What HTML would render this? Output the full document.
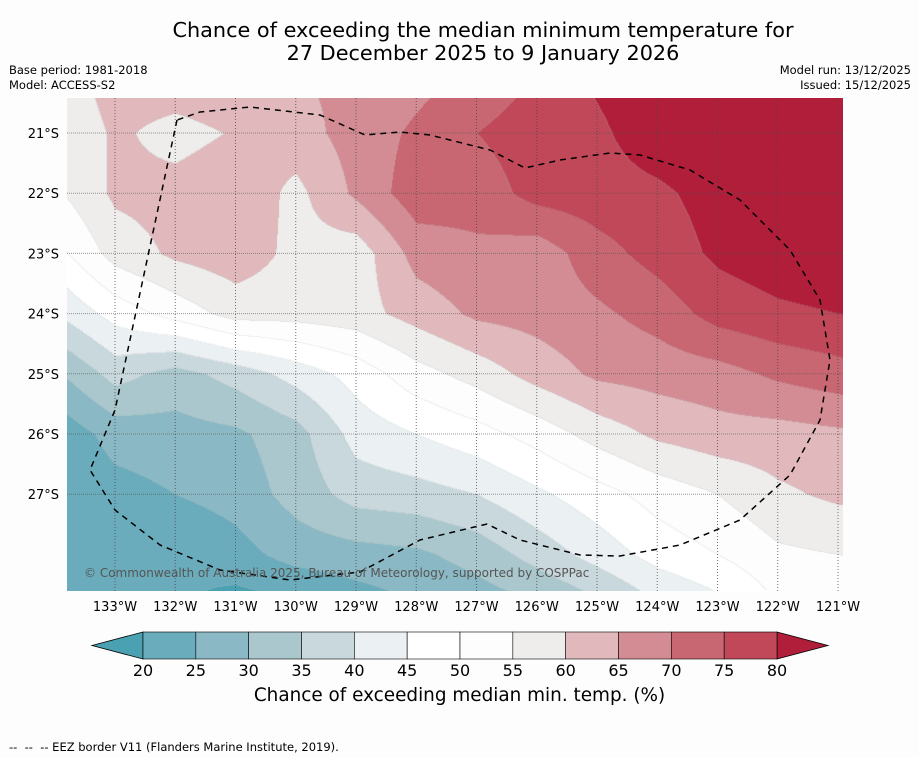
<!DOCTYPE html>
<html><head><meta charset="utf-8">
<style>
html,body{margin:0;padding:0;background:#fdfdfd;}
#wrap{position:relative;width:919px;height:758px;overflow:hidden;font-family:"DejaVu Sans","Liberation Sans",sans-serif;color:#000;}
.t{position:absolute;white-space:nowrap;}
</style></head>
<body>
<div id="wrap">
<div class="t" style="left:0;width:966px;top:19px;text-align:center;font-size:20.8px;line-height:23px;">Chance of exceeding the median minimum temperature for<br>27 December 2025 to 9 January 2026</div>
<div class="t" style="left:9px;top:63px;font-size:11.5px;line-height:15px;">Base period: 1981-2018<br>Model: ACCESS-S2</div>
<div class="t" style="right:8px;top:63px;font-size:11.5px;line-height:15px;text-align:right;">Model run: 13/12/2025<br>Issued: 15/12/2025</div>
<canvas id="map" width="776" height="493" style="position:absolute;left:67px;top:98px;"></canvas>
<svg id="ov" width="919" height="758" style="position:absolute;left:0;top:0;"></svg>
<div class="t" style="left:84px;top:566px;font-size:12px;color:#555;">© Commonwealth of Australia 2025, Bureau of Meteorology, supported by COSPPac</div>
<div class="t" style="left:0;width:919px;top:685px;text-align:center;font-size:18.4px;">Chance of exceeding median min. temp. (%)</div>
<div class="t" style="left:9px;top:740px;font-size:11.5px;">-- &nbsp;-- &nbsp;-- EEZ border V11 (Flanders Marine Institute, 2019).</div>
</div>
<script>
const lonTicks=[-133,-132,-131,-130,-129,-128,-127,-126,-125,-124,-123,-122,-121];
const latTicks=[-21,-22,-23,-24,-25,-26,-27];
const levels=[20,25,30,35,40,45,50,55,60,65,70,75,80];
const bandColors=["#4aa1b1","#6aacbb","#8ab8c4","#a9c7cc","#c9d8dd","#ebf0f2","#ffffff","#fdfdfd","#efedeb","#e1b9bd","#d48c94","#c86671","#c04858","#b01e3a"];
const gridLons=[-134,-133,-132,-131,-130,-129,-128,-127,-126,-125,-124,-123,-122,-121,-120];
const gridLats=[-20,-21,-22,-23,-24,-25,-26,-27,-28,-29];
const row20=[57,63,64,65,65,66,68,71,75,81,84,86,88,88,88];
const row21=[54,61,58,60.5,63,67,71,75,78,79,83,85,86,87,88];
const row22=[54,61,62,64,58.5,66,73,72,77,78,79,82,84,86,87];
const row23=[48,57,61,63,58.5,57,67,69,67,73,77,81,83,84,85];
const row24=[40,47,52,57,57,58,62,66,67,69,72,77,79,80,81];
const row25=[29,37,33,37,42,47,53,57,62,66,67,68,71,73,74];
const row26=[21,27,28,29,33,42,45,48,52,57,61,63,63,64,65];
const row27=[20,23,25,27,32,37,38,40,44,48,52,55,59,61,62];
const row28=[24,25,20,23,27,28,29,32,37,42,47,50,54,55,56];
const row29=[24,22,21,17,17,21,24,26,28,32,38,42,49,50,51];
const grid=[row20,row21,row22,row23,row24,row25,row26,row27,row28,row29];

const X=lon=>115+(lon+133)*60.25;
const Y=lat=>133+(-21-lat)*60.2;
const L=x=>-133+(x-115)/60.25;
const A=y=>-21-(y-133)/60.2;

function hex(c){return [parseInt(c.slice(1,3),16),parseInt(c.slice(3,5),16),parseInt(c.slice(5,7),16)];}
const rgb=bandColors.map(hex);
function valAt(lon,lat){
  let fi=(lon-gridLons[0])/(gridLons[1]-gridLons[0]);
  let fj=(lat-gridLats[0])/(gridLats[1]-gridLats[0]);
  fi=Math.max(0,Math.min(gridLons.length-1.001,fi));fj=Math.max(0,Math.min(gridLats.length-1.001,fj));
  const i=Math.floor(fi),j=Math.floor(fj),u=fi-i,v=fj-j;
  return grid[j][i]*(1-u)*(1-v)+grid[j][i+1]*u*(1-v)+grid[j+1][i]*(1-u)*v+grid[j+1][i+1]*u*v;
}
function band(v){let b=0;while(b<levels.length&&v>=levels[b])b++;return b;}
const cv=document.getElementById('map');const ctx=cv.getContext('2d');
const img=ctx.createImageData(776,493);
const bands=new Int8Array(776*493);
for(let py=0;py<493;py++){const lat=A(py+98);for(let px=0;px<776;px++){
  const b=band(valAt(L(px+67),lat));bands[py*776+px]=b;
  const c=rgb[b],k=(py*776+px)*4;img.data[k]=c[0];img.data[k+1]=c[1];img.data[k+2]=c[2];img.data[k+3]=255;}}
for(let py=0;py<492;py++)for(let px=0;px<775;px++){const i=py*776+px;
  if(bands[i]!==bands[i+1]||bands[i]!==bands[i+776]){const k=i*4;img.data[k]=Math.round(img.data[k]*0.82+170*0.18);img.data[k+1]=Math.round(img.data[k+1]*0.82+185*0.18);img.data[k+2]=Math.round(img.data[k+2]*0.82+190*0.18);}}
ctx.putImageData(img,0,0);

const NS='http://www.w3.org/2000/svg';const ov=document.getElementById('ov');
function mk(t,a,p){const e=document.createElementNS(NS,t);for(const k in a)e.setAttribute(k,a[k]);(p||ov).appendChild(e);return e;}
lonTicks.forEach(lon=>{
  const g=mk('line',{x1:X(lon),x2:X(lon),y1:98,y2:591,stroke:'#444','stroke-width':1,'stroke-dasharray':'1,2','stroke-opacity':0.75});
  
  
  const t=mk('text',{x:X(lon),y:611,'text-anchor':'middle','font-size':13,'font-family':'DejaVu Sans, Liberation Sans, sans-serif'});
  t.textContent=Math.abs(lon)+'°W';
  
  
});
latTicks.forEach(lat=>{
  const g=mk('line',{x1:67,x2:843,y1:Y(lat),y2:Y(lat),stroke:'#555','stroke-width':1,'stroke-dasharray':'1,1','stroke-opacity':0.6});
  
  
  const t=mk('text',{x:59,y:Y(lat)+5,'text-anchor':'end','font-size':13,'font-family':'DejaVu Sans, Liberation Sans, sans-serif'});
  t.textContent=Math.abs(lat)+'°S';
  
  
});
const eez=mk('path',{d:'M177,120 L115,410 L90,470 L115,510 L160,545 L220,570 L290,580 L360,572 L420,540 L487,524 L520,540 L580,555 L620,556 L680,545 L740,520 L790,475 L820,420 L830,360 L820,300 L790,250 L740,200 L690,170 L640,155 L610,153 L560,160 L525,168 L490,150 L430,135 L400,132 L365,135 L320,115 L250,107 L200,112 Z',fill:'none',stroke:'#000','stroke-width':1.5,'stroke-dasharray':'6,5'});


const cbX0=143,cbX1=777,cbY=632,cbH=27;const bw=(cbX1-cbX0)/(levels.length-1);
const cx=i=>cbX0+i*bw;
const lt=mk('polygon',{points:`${cbX0},${cbY} ${cbX0},${cbY+cbH} 92,${cbY+cbH/2}`,fill:bandColors[0],stroke:'#000','stroke-width':0.8});


const rt=mk('polygon',{points:`${cbX1},${cbY} ${cbX1},${cbY+cbH} 828,${cbY+cbH/2}`,fill:bandColors[bandColors.length-1],stroke:'#000','stroke-width':0.8});


for(let i=0;i<levels.length-1;i++){
  const r=mk('rect',{x:cx(i),y:cbY,width:bw,height:cbH,fill:bandColors[i+1],stroke:'#000','stroke-width':0.6});
  
  
}
levels.forEach((lv,i)=>{
  const t=mk('text',{x:cx(i),y:676,'text-anchor':'middle','font-size':16,'font-family':'DejaVu Sans, Liberation Sans, sans-serif'});
  t.textContent=lv;
  
  
});
</script>
</body></html>
